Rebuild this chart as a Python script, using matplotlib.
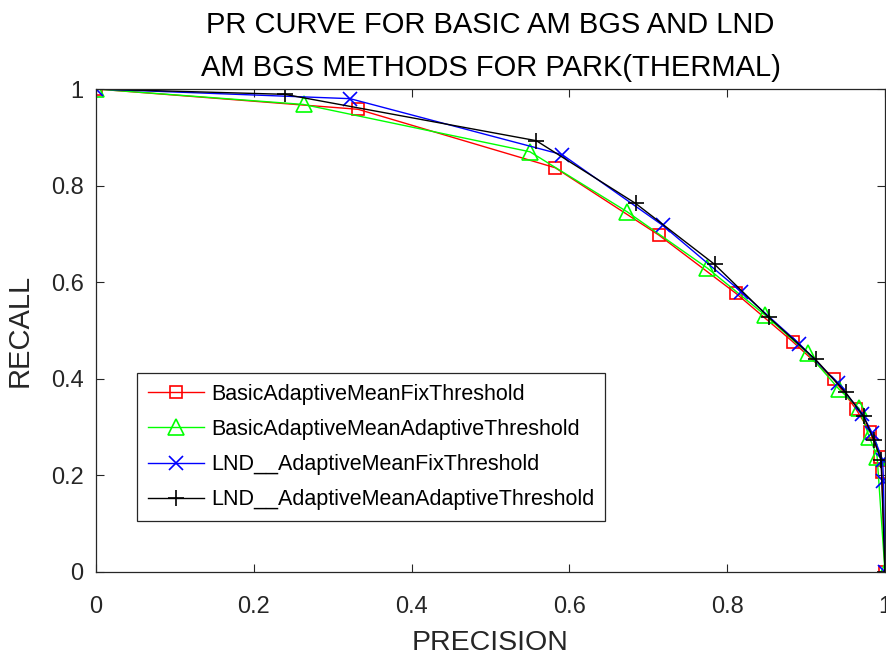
import matplotlib
matplotlib.use('Agg')
import matplotlib.pyplot as plt
from matplotlib.ticker import FuncFormatter

plt.rcParams['font.family'] = ['Liberation Sans', 'DejaVu Sans']

# precision / recall pairs
basic_fix_prec = [0.0, 0.332, 0.582, 0.713, 0.811, 0.883, 0.935, 0.963, 0.981, 0.994, 0.996, 1.0]
basic_fix_rec = [1.0, 0.958, 0.837, 0.698, 0.577, 0.477, 0.399, 0.338, 0.290, 0.239, 0.207, 0.0]

basic_adapt_prec = [0.0, 0.263, 0.550, 0.673, 0.775, 0.848, 0.902, 0.942, 0.967, 0.980, 0.990, 1.0]
basic_adapt_rec = [1.0, 0.968, 0.870, 0.746, 0.629, 0.532, 0.453, 0.378, 0.339, 0.280, 0.239, 0.0]

lnd_fix_prec = [0.0, 0.322, 0.591, 0.718, 0.818, 0.891, 0.940, 0.971, 0.984, 0.997, 0.998, 1.0]
lnd_fix_rec = [1.0, 0.980, 0.864, 0.718, 0.580, 0.473, 0.391, 0.328, 0.287, 0.232, 0.188, 0.0]

lnd_adapt_prec = [0.0, 0.239, 0.558, 0.684, 0.784, 0.853, 0.912, 0.950, 0.973, 0.986, 0.995, 1.0]
lnd_adapt_rec = [1.0, 0.989, 0.893, 0.763, 0.637, 0.527, 0.440, 0.372, 0.322, 0.273, 0.232, 0.0]

labels = ['BasicAdaptiveMeanFixThreshold', 'BasicAdaptiveMeanAdaptiveThreshold',
          'LND__AdaptiveMeanFixThreshold', 'LND__AdaptiveMeanAdaptiveThreshold']

axis_col = (0.15, 0.15, 0.15)

fig = plt.figure(figsize=(8.86, 6.58), dpi=100)
ax = fig.add_axes([96 / 886, 86 / 658, 789 / 886, 483 / 658])

ax.plot(basic_fix_prec, basic_fix_rec, color='r', marker='s', ms=9, mfc='none',
        mew=1.2, lw=1.0, label=labels[0])
ax.plot(basic_adapt_prec, basic_adapt_rec, color=(0, 1, 0), marker='^', ms=12, mfc='none',
        mew=1.2, lw=1.0, label=labels[1])
ax.plot(lnd_fix_prec, lnd_fix_rec, color='b', marker='x', ms=10, mfc='none',
        mew=1.2, lw=1.0, label=labels[2])
ax.plot(lnd_adapt_prec, lnd_adapt_rec, color='k', marker='+', ms=12, mfc='none',
        mew=1.2, lw=1.0, label=labels[3])

ax.set_xlim(0, 1)
ax.set_ylim(0, 1)
ax.set_xticks([0, 0.2, 0.4, 0.6, 0.8, 1])
ax.set_yticks([0, 0.2, 0.4, 0.6, 0.8, 1])
fmt = FuncFormatter(lambda v, p: '%g' % v)
ax.xaxis.set_major_formatter(fmt)
ax.yaxis.set_major_formatter(fmt)
ax.tick_params(direction='in', length=6, width=0.8, colors=axis_col, labelsize=17,
               top=True, right=True)
ax.tick_params(axis='x', pad=17)
ax.tick_params(axis='y', pad=9)
for s in ax.spines.values():
    s.set_color(axis_col)
    s.set_linewidth(0.9)

ax.set_xlabel('PRECISION', fontsize=20.5, color=axis_col, labelpad=9)
ax.set_ylabel('RECALL', fontsize=21, color=axis_col, labelpad=12)
ax.set_title('PR CURVE FOR BASIC AM BGS AND LND\nAM BGS METHODS FOR PARK(THERMAL)',
             fontsize=21, pad=9, linespacing=1.7)

leg = ax.legend(loc='upper left', bbox_to_anchor=(41 / 789, 199 / 483), fontsize=15.5,
                fancybox=False, framealpha=1, edgecolor=axis_col, borderpad=0.5,
                labelspacing=0.66, handlelength=2.6, handletextpad=0.35, borderaxespad=0)
leg.get_frame().set_linewidth(0.9)

fig.savefig('out.png', dpi=100)
